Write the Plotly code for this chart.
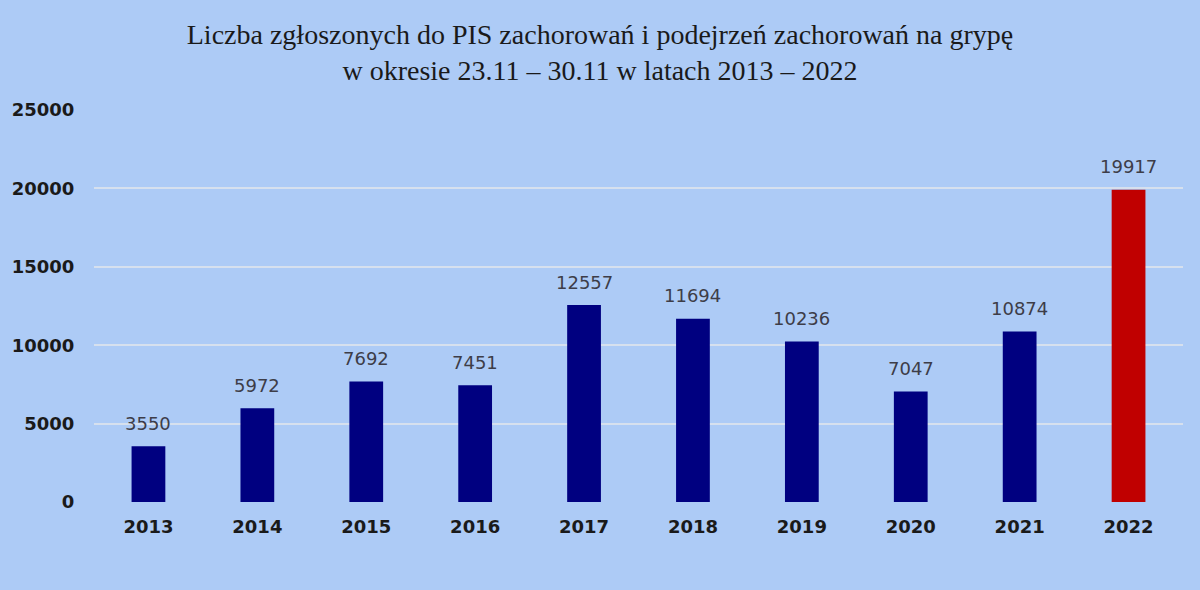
import plotly.graph_objects as go

years = ["2013", "2014", "2015", "2016", "2017", "2018", "2019", "2020", "2021", "2022"]
values = [3550, 5972, 7692, 7451, 12557, 11694, 10236, 7047, 10874, 19917]
bar_colors = ["#000080"] * 9 + ["#C00000"]
y_ticks = [0, 5000, 10000, 15000, 20000, 25000]

bg = "#ADCBF6"

fig = go.Figure(go.Bar(
    x=years, y=values,
    marker=dict(color=bar_colors, line=dict(width=0)),
    hoverinfo="x+y",
))

# value labels above bars (x = category index on the category axis)
for i, v in enumerate(values):
    fig.add_annotation(
        x=i, y=v, xref="x", yref="y", text=str(v), showarrow=False,
        xanchor="center", yanchor="middle", yshift=23,
        font=dict(family="DejaVu Sans", size=18, color="#3d3d48"),
    )

fig.update_layout(
    width=1200, height=590,
    paper_bgcolor=bg, plot_bgcolor=bg,
    margin=dict(l=90, r=17, t=110, b=88),
    bargap=0.69,
    showlegend=False,
    title=dict(
        text="Liczba zgłoszonych do PIS zachorowań i podejrzeń zachorowań na grypę<br>w okresie 23.11 – 30.11 w latach 2013 – 2022",
        x=0.5, xanchor="center", yref="container", y=1 - 44 / 590, yanchor="top",
        font=dict(family="Liberation Serif, Times New Roman", size=28, color="#1a1a1a"),
    ),
    xaxis=dict(
        type="category",
        showgrid=False, showline=False, zeroline=False,
        tickfont=dict(family="DejaVu Sans", size=18, color="#1a1a1a", weight="bold"),
        ticks="outside", ticklen=8, tickcolor="rgba(0,0,0,0)",
    ),
    yaxis=dict(
        range=[0, 25000], tickvals=y_ticks, ticktext=[str(t) for t in y_ticks],
        showgrid=True, gridcolor="#D6E0EE", gridwidth=2,
        zeroline=False, showline=False,
        tickfont=dict(family="DejaVu Sans", size=18, color="#1a1a1a", weight="bold"),
        ticks="outside", ticklen=15, tickcolor="rgba(0,0,0,0)",
    ),
)

fig.write_html("out.html")
